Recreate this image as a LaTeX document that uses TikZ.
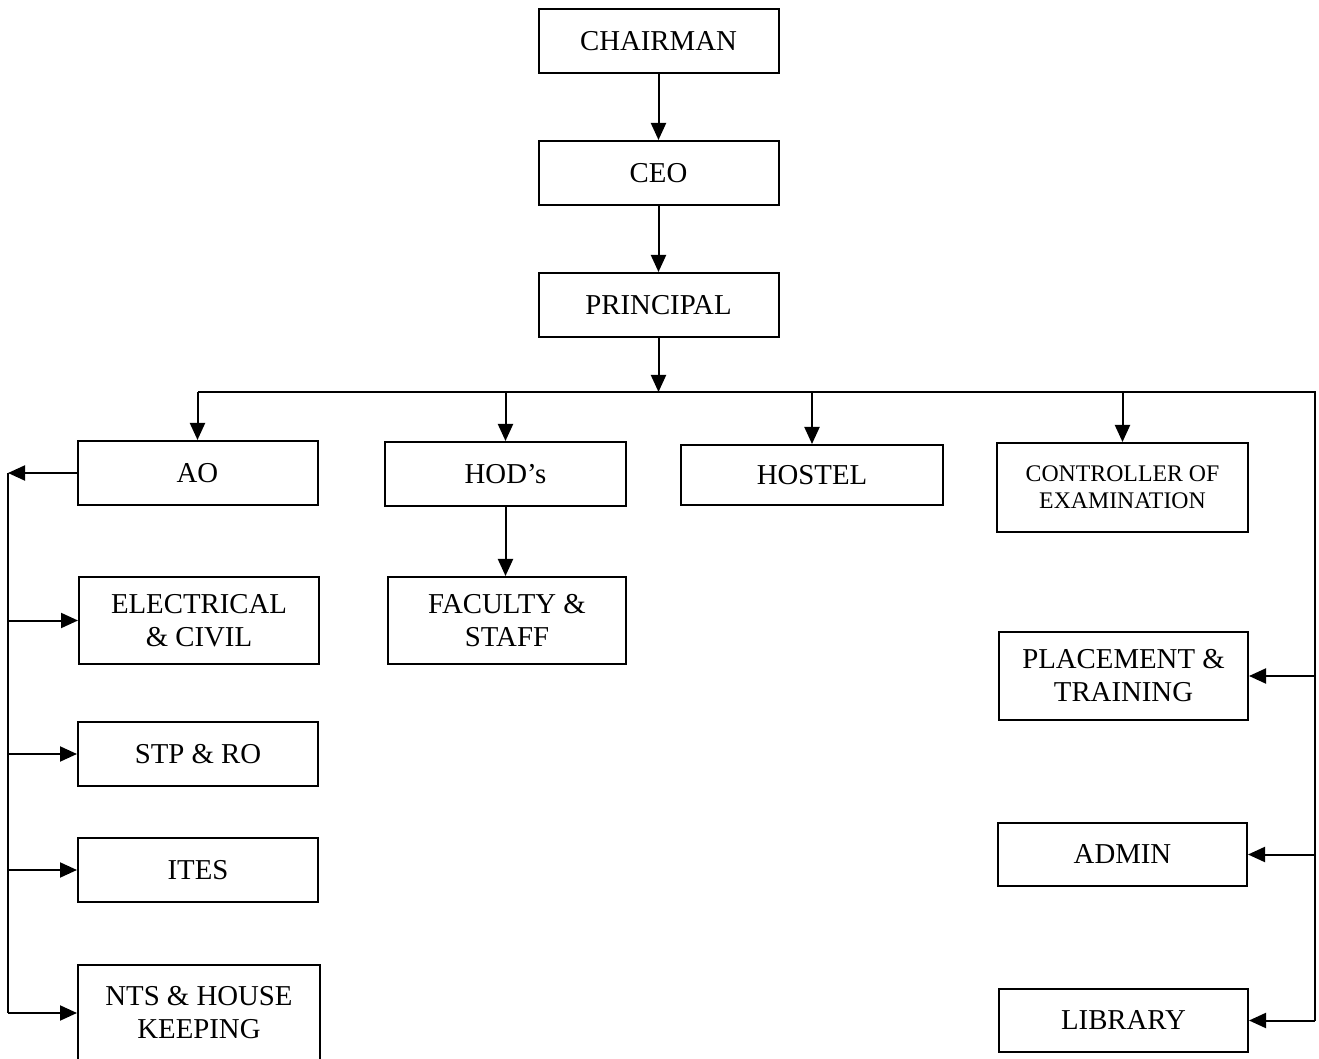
\documentclass[tikz,border=0pt]{standalone}
\usepackage{fontspec}
\setmainfont{Liberation Serif}
\usetikzlibrary{arrows.meta}
\usetikzlibrary{positioning}

\begin{document}
\begin{tikzpicture}[x=0.5pt,y=-0.5pt,>={Triangle[length=8.5pt,width=7.5pt]},line width=1pt,
		unit/.style={rectangle,draw=black,line width=1pt,inner sep=1pt,align=center,
			minimum width=120pt,minimum height=32pt,font=\fontsize{14.4}{16.5}\selectfont},
		small/.style={font=\fontsize{11.9}{13.5}\selectfont}]
		\useasboundingbox (0,0) rectangle (1319,1059);
		\node[unit]  (chair)   at (658.5,41)      {CHAIRMAN};
		\node[unit]  (ceo)     at (658.5,173)     {CEO};
		\node[unit]  (princ)   at (658.5,305)     {PRINCIPAL};
		
		\node[unit]  (ao)      at (197.5,473)     {AO};
		\node[unit,minimum width=120.5pt]  (hod)  at (505.5,474)  {HOD’s};
		\node[unit,minimum width=131pt,minimum height=30pt]  (hostel) at (812,475)  {HOSTEL};
		\node[unit,small,minimum width=125.5pt,minimum height=44.5pt]  (coe)  at (1122.5,487.5)  {CONTROLLER OF\\EXAMINATION};
		
		\node[unit,minimum height=43.5pt]  (elec)  at (199,620.5)  {ELECTRICAL\\\& CIVIL};
		\node[unit,minimum width=119pt,minimum height=43.5pt]  (fac)  at (507,620.5)  {FACULTY \&\\STAFF};
		\node[unit]  (stp)     at (198,754)       {STP \& RO};
		\node[unit]  (ites)    at (198,870)       {ITES};
		\node[unit,minimum width=121pt,minimum height=48pt]  (nts)  at (199,1013)  {NTS \& HOUSE\\KEEPING};
		
		\node[unit,minimum width=124.5pt,minimum height=44pt]  (place)  at (1123.5,676)  {PLACEMENT \&\\TRAINING};
		\node[unit,minimum width=124.5pt,minimum height=31.5pt]  (admin)  at (1122.5,854.5)  {ADMIN};
		\node[unit,minimum width=124.5pt,minimum height=31.5pt]  (lib)    at (1123.5,1020.5) {LIBRARY};
		
		\coordinate (busl)   at (198,392);
		\coordinate (busr)   at (1315,392);
		\coordinate (lspine) at (8,473);
		
		\draw (busl) -- (busr) -- (busr |- lib.east);
		\draw (lspine) -- (lspine |- nts.west);
		
		\path[->]
		(chair) edge (ceo)
		(ceo) edge (princ)
		(princ.south) edge (princ.south |- busl)
		(ao.north |- busl) edge (ao.north)
		(hod.north |- busl) edge (hod.north)
		(hostel.north |- busl) edge (hostel.north)
		(coe.north |- busl) edge (coe.north)
		(hod.south) edge (hod.south |- fac.north)
		(ao.west) edge (lspine)
		(lspine |- elec.west) edge (elec.west)
		(lspine |- stp.west) edge (stp.west)
		(lspine |- ites.west) edge (ites.west)
		(lspine |- nts.west) edge (nts.west)
		(busr |- place.east) edge (place.east)
		(busr |- admin.east) edge (admin.east)
		(busr |- lib.east) edge (lib.east);
\end{tikzpicture}
\end{document}
